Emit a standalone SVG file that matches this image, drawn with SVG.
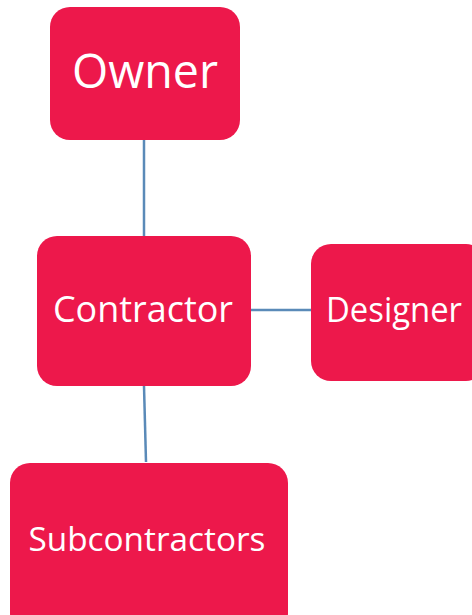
<svg xmlns="http://www.w3.org/2000/svg" width="472" height="615" viewBox="0 0 472 615">
<style>
.box{fill:#ED184B;}
.lbl{fill:#ffffff;font-family:"Open Sans","Noto Sans",sans-serif;text-anchor:middle;}
.conn{stroke:#5A8AB8;stroke-width:2.5;fill:none;}
</style>
<rect width="472" height="615" fill="#ffffff"/>
<g id="connectors">
<line class="conn" x1="144" y1="140" x2="144" y2="236"/>
<line class="conn" x1="251" y1="310" x2="311" y2="310"/>
<line class="conn" x1="144" y1="386" x2="146" y2="462"/>
</g>
<g id="owner">
<rect class="box" x="50" y="7" width="190" height="133" rx="20"/>
<text class="lbl" x="145" y="88" font-size="47" textLength="146" lengthAdjust="spacingAndGlyphs">Owner</text>
</g>
<g id="contractor">
<rect class="box" x="37" y="236" width="214" height="150" rx="20"/>
<text class="lbl" x="143" y="322" font-size="37" textLength="180" lengthAdjust="spacingAndGlyphs">Contractor</text>
</g>
<g id="designer">
<rect class="box" x="311" y="244" width="175" height="137" rx="20"/>
<text class="lbl" x="394" y="322" font-size="35" textLength="136" lengthAdjust="spacingAndGlyphs">Designer</text>
</g>
<g id="subcontractors">
<rect class="box" x="10" y="463" width="278" height="170" rx="20"/>
<text class="lbl" x="147" y="551" font-size="33" textLength="237" lengthAdjust="spacingAndGlyphs">Subcontractors</text>
</g>
</svg>
